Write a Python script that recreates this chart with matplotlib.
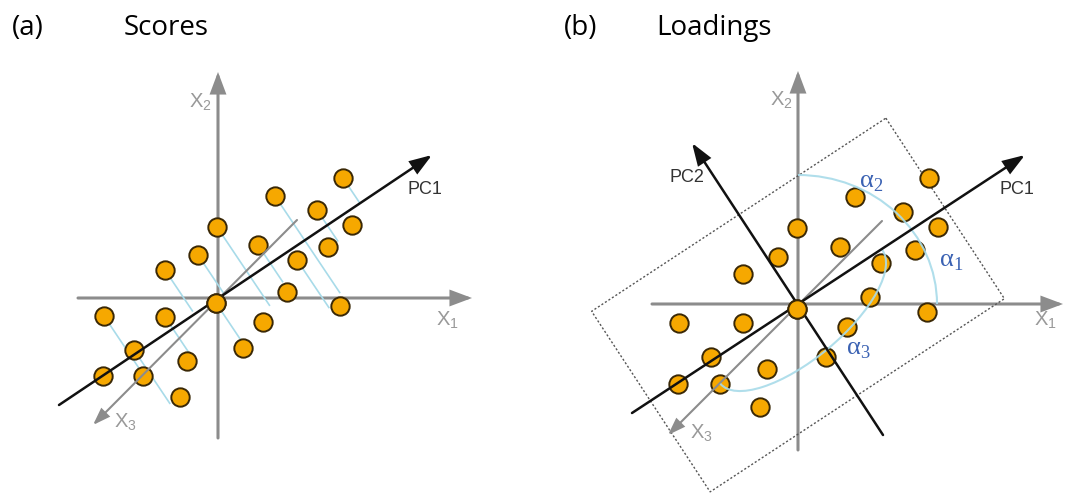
import matplotlib.pyplot as plt
from matplotlib.patches import Arc, Polygon
import numpy as np

W, H = 1065, 495

# point positions relative to each panel's axis origin (px, y up)
scores_x = [125, 57, 99, 134, -1, 40, 110, -20, 79, -53, 69, -2, 122, -114, -53, 45, 25, -84, -31, -115, -75, -38]
scores_y = [120, 102, 88, 73, 71, 53, 51, 43, 38, 28, 6, -5, -8, -18, -19, -24, -50, -52, -63, -78, -78, -99]
# length of the light blue projection line drawn from each score point
proj_len = [30, 117, 38, 0, 95, 45, 0, 48, 58, 50, 0, 52, 0, 70, 48, 0, 0, 65, 0, 0, 0, 0]

load_x = [131, 57, 105, 140, -1, 42, 117, -20, 83, -55, 72, -1, 129, -119, -55, 49, 28, -87, -31, -120, -78, -38]
load_y = [126, 107, 92, 77, 76, 57, 54, 47, 41, 30, 7, -5, -8, -19, -19, -23, -53, -53, -65, -80, -80, -103]
center_idx = 11

titles = [("(a)", "Scores"), ("(b)", "Loadings")]

ORANGE = "#f6a800"
EDGE = "#3a2806"
GRAY = "#8c8c8c"
LBLUE = "#a8dbe9"
ABLUE = "#3b62b3"

fig = plt.figure(figsize=(W / 100, H / 100), dpi=100)
ax = fig.add_axes([0, 0, 1, 1])
ax.set_xlim(0, W)
ax.set_ylim(0, H)
ax.axis("off")


def arrow(o, tail, tip, color, lw, hl, hw, z):
    ax.annotate("", xy=(o[0] + tip[0], o[1] + tip[1]),
                xytext=(o[0] + tail[0], o[1] + tail[1]),
                arrowprops=dict(arrowstyle=f"-|>,head_length={hl},head_width={hw}",
                                color=color, lw=lw, shrinkA=0, shrinkB=0,
                                mutation_scale=1, joinstyle="miter"),
                zorder=z)


def axes_3d(o, x1, x2, x3, labels):
    arrow(o, (x1[0], 0), (x1[1], 0), GRAY, 2.2, 12, 4.5, 1)
    arrow(o, (0, x2[0]), (0, x2[1]), GRAY, 2.2, 12, 4.5, 1)
    arrow(o, x3[0], x3[1], GRAY, 1.5, 10, 3.5, 4)
    for txt, (dx, dy) in labels:
        ax.text(o[0] + dx, o[1] + dy, txt, color="#999999", fontsize=14.5,
                family="Liberation Sans", ha="center", va="center")


def points(o, xs, ys):
    px = o[0] + np.array(xs)
    py = o[1] + np.array(ys)
    ax.scatter(px, py, s=175, c=ORANGE, edgecolors=EDGE, linewidths=1.4, zorder=3)
    ax.scatter(px[center_idx], py[center_idx], s=175, c=ORANGE, edgecolors=EDGE,
               linewidths=1.4, zorder=6)


def pc_label(o, txt, pos):
    ax.text(o[0] + pos[0], o[1] + pos[1], txt, color="#333333", fontsize=13,
            family="Liberation Sans", ha="center", va="center")


# ---- panel (a): scores
A0 = (218, H - 298)
axes_3d(A0, (-140, 254), (-140, 226), ((79, 78), (-125, -127)),
        [("X$_\\mathregular{2}$", (-18, 196)), ("X$_\\mathregular{1}$", (229, -22)),
         ("X$_\\mathregular{3}$", (-93, -124))])
pc1_a = ((-159, -107), (214, 143))
arrow(A0, pc1_a[0], pc1_a[1], "#111111", 1.8, 13, 4.5, 5)
pc_label(A0, "PC1", (207, 108))

ang = np.arctan2(pc1_a[1][1] - pc1_a[0][1], pc1_a[1][0] - pc1_a[0][0])
perp = np.array([np.sin(ang), -np.cos(ang)])
for x, y, L in zip(scores_x, scores_y, proj_len):
    if L > 0:
        ax.plot([A0[0] + x, A0[0] + x + L * perp[0]],
                [A0[1] + y, A0[1] + y + L * perp[1]],
                color=LBLUE, lw=1.2, zorder=2, solid_capstyle="butt")
points(A0, scores_x, scores_y)

# ---- panel (b): loadings
B0 = (798, H - 304)
axes_3d(B0, (-146, 265), (-146, 233), ((84, 83), (-130, -131)),
        [("X$_\\mathregular{2}$", (-17, 204)), ("X$_\\mathregular{1}$", (247, -16)),
         ("X$_\\mathregular{3}$", (-97, -129))])
pc1_b = ((-166, -109), (227, 149))
pc2_b = ((85, -131), (-106, 161))
arrow(B0, pc1_b[0], pc1_b[1], "#111111", 1.8, 13, 4.5, 5)
arrow(B0, pc2_b[0], pc2_b[1], "#111111", 1.8, 13, 4.5, 5)
pc_label(B0, "PC1", (219, 114))
pc_label(B0, "PC2", (-111, 126))

# dotted box aligned with the PCs
a = np.arctan2(pc1_b[1][1] - pc1_b[0][1], pc1_b[1][0] - pc1_b[0][0])
u = np.array([np.cos(a), np.sin(a)])
v = np.array([-np.sin(a), np.cos(a)])
c = np.array([B0[0], B0[1] - 1])
corners = [c + 176 * u + 108 * v, c + 176 * u - 108 * v,
           c - 176 * u - 108 * v, c - 176 * u + 108 * v]
ax.add_patch(Polygon(corners, closed=True, fill=False, ec="#555555", lw=1.0,
                     ls=(0, (1.5, 1.5)), zorder=1))

# angle arcs
ax.add_patch(Arc(B0, 2 * 139, 2 * 129, theta1=0, theta2=90, color=LBLUE,
                 lw=1.5, zorder=4, alpha=0.9))
ax.add_patch(Arc((B0[0] + 3, B0[1] - 12.5), 2 * 105, 2 * 42, angle=39.8,
                 theta1=180, theta2=360, color=LBLUE, lw=1.5, zorder=4, alpha=0.9))
for i, (dx, dy) in zip([1, 2, 3], [(153, 42), (73, 121), (60, -46)]):
    ax.text(B0[0] + dx, B0[1] + dy, f"α$_\\mathregular{{{i}}}$", color=ABLUE,
            fontsize=19, family="Liberation Serif", ha="center", va="center")

points(B0, load_x, load_y)

# ---- titles
for (tag, name), x_tag, x_name in zip(titles, [12, 564], [124, 656]):
    ax.text(x_tag, H - 35, tag, fontsize=20, family="Open Sans", va="baseline")
    ax.text(x_name, H - 35, name, fontsize=20, family="Open Sans", va="baseline")

fig.savefig("out.png", dpi=100)
